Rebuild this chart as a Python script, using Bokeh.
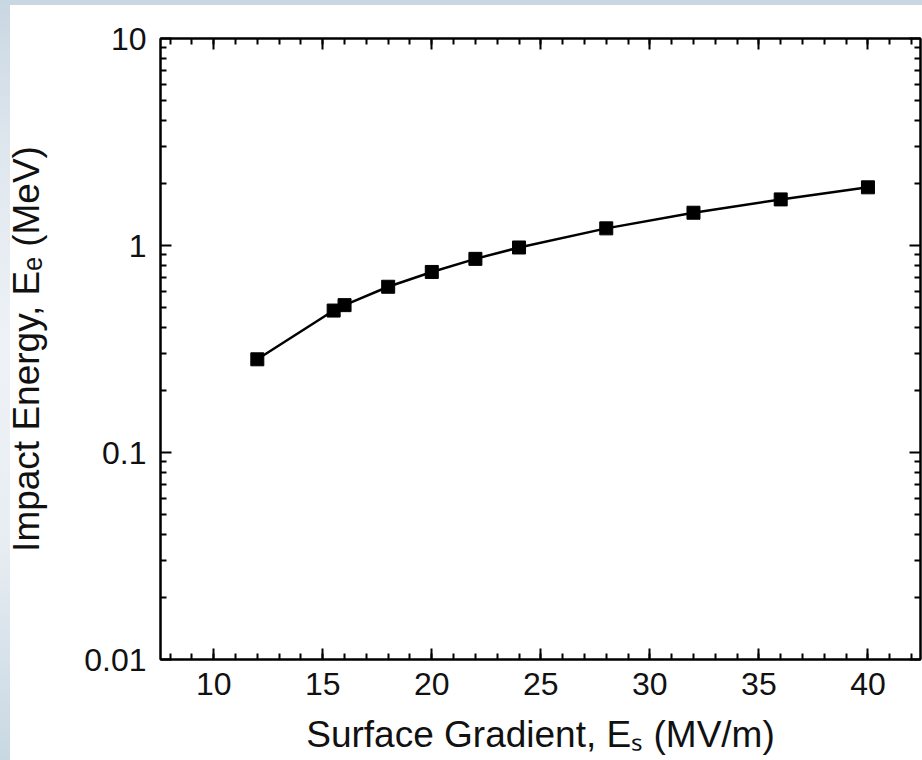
from bokeh.plotting import figure
from bokeh.models import (Range1d, LinearAxis, LogAxis, SingleIntervalTicker, FixedTicker,
                          CustomJSTickFormatter)
from bokeh.embed import file_html
from bokeh.resources import INLINE

# ---- data ----
gradient = [12, 15.5, 16, 18, 20, 22, 24, 28, 32, 36, 40]            # Surface gradient (MV/m)
energy = [0.282, 0.485, 0.515, 0.632, 0.745, 0.862, 0.978, 1.21, 1.44, 1.67, 1.91]  # Impact energy (MeV)
y_major = [0.01, 0.1, 1, 10]
y_minor = [m * 10.0 ** e for e in range(-2, 1) for m in range(2, 10)]
x_title = "Surface Gradient, E\u209b (MV/m)"
y_title = "Impact Energy, E\u2091 (MeV)"

FONT = "Liberation Sans"
TICK_SIZE = "32px"
TITLE_SIZE = "37px"

p = figure(width=922, height=760, output_backend="svg", toolbar_location=None,
           x_range=Range1d(7.56, 42.41), y_range=Range1d(0.01, 10), y_axis_type="log",
           min_border_left=160, min_border_right=2, min_border_top=38, min_border_bottom=101,
           x_axis_location=None, y_axis_location=None)
p.grid.visible = False
p.background_fill_color = "white"
p.border_fill_alpha = 0
p.outline_line_color = "black"
p.outline_line_width = 2
p.styles = {
    "background": "linear-gradient(to bottom, #c9d7e3 0px, #c9d7e3 5px, rgba(255,255,255,0) 5px),"
                  "linear-gradient(to bottom, #c9d7e3 0%, #dfe7ee 20%, #eef2f6 45%, #e9eef3 70%, #c8d8e3 100%) left top / 10px 100% no-repeat,"
                  "white"
}

def style_axis(ax):
    ax.axis_line_color = "black"
    ax.axis_line_width = 2
    ax.major_tick_line_color = "black"
    ax.major_tick_line_width = 2
    ax.minor_tick_line_color = "black"
    ax.minor_tick_line_width = 2
    ax.major_tick_in = 11
    ax.major_tick_out = 0
    ax.minor_tick_in = 6
    ax.minor_tick_out = 0
    ax.major_label_text_font = FONT
    ax.major_label_text_font_size = TICK_SIZE
    ax.major_label_text_color = "#111111"
    ax.axis_label_text_font = FONT
    ax.axis_label_text_font_size = TITLE_SIZE
    ax.axis_label_text_font_style = "normal"
    ax.axis_label_text_color = "#111111"

xt = SingleIntervalTicker(interval=5, num_minor_ticks=5)
yt = FixedTicker(ticks=y_major, minor_ticks=y_minor)
fmt = CustomJSTickFormatter(code="return String(tick);")
blank = CustomJSTickFormatter(code="return '';")

xb = LinearAxis(ticker=xt, formatter=fmt, axis_label=x_title)
style_axis(xb)
xb.major_label_standoff = 13
xb.axis_label_standoff = 16
p.add_layout(xb, "below")

xtp = LinearAxis(ticker=xt, formatter=blank)
style_axis(xtp)
xtp.major_label_standoff = 0
p.add_layout(xtp, "above")

yl = LogAxis(ticker=yt, formatter=fmt, axis_label=y_title)
style_axis(yl)
yl.major_label_standoff = 14
yl.axis_label_standoff = 34
p.add_layout(yl, "left")

yr = LogAxis(ticker=yt, formatter=blank)
style_axis(yr)
yr.major_label_standoff = 0
p.add_layout(yr, "right")

p.line(gradient, energy, line_color="black", line_width=2.5)
p.scatter(gradient, energy, marker="square", size=13, fill_color="black", line_color="black")

open("out.html", "w").write(file_html(p, INLINE))
